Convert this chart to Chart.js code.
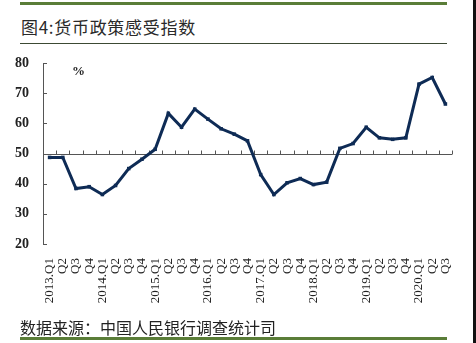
<!DOCTYPE html>
<html>
<head>
<meta charset="utf-8">
<script src="https://cdn.jsdelivr.net/npm/chart.js@4"></script>
<style>
  html, body { margin: 0; padding: 0; background: #fff; }
  #wrap { position: relative; width: 476px; height: 343px; overflow: hidden; background: #fff; }
  #chart { position: absolute; left: 0; top: 0; }
  .bar { position: absolute; left: 20px; width: 427px; }
  #topLine { top: 2px; height: 3px; background: #5a7d38; }
  #thinLine { top: 43px; height: 1px; background: #3c4a34; }
  #botLine { top: 337px; height: 3px; background: #5a7d38; }
  #edge { position: absolute; left: 473px; top: 0; width: 3px; height: 343px; background: #111; }
  #title { position: absolute; left: 21px; top: 14px; font: 17px "Noto Sans CJK SC", sans-serif; letter-spacing: 0.7px; color: #2a2a2a; white-space: nowrap; }
  #source { position: absolute; left: 20px; top: 315px; font: 16px "Noto Sans CJK SC", serif; color: #222; white-space: nowrap; }
  #unit { position: absolute; left: 72px; top: 63px; font: bold 13px "Liberation Serif", serif; color: #222; }
</style>
</head>
<body>
<div id="wrap">
  <div class="bar" id="topLine"></div>
  <div id="title">图4:货币政策感受指数</div>
  <div class="bar" id="thinLine"></div>
  <canvas id="chart" width="476" height="343"></canvas>
  <div id="unit">%</div>
  <div id="source">数据来源：中国人民银行调查统计司</div>
  <div class="bar" id="botLine"></div>
  <div id="edge"></div>
</div>
<script>
// 季度标签
const quarters = [
  "2013.Q1", "Q2", "Q3", "Q4",
  "2014.Q1", "Q2", "Q3", "Q4",
  "2015.Q1", "Q2", "Q3", "Q4",
  "2016.Q1", "Q2", "Q3", "Q4",
  "2017.Q1", "Q2", "Q3", "Q4",
  "2018.Q1", "Q2", "Q3", "Q4",
  "2019.Q1", "Q2", "Q3", "Q4",
  "2020.Q1", "Q2", "Q3"
];

// 货币政策感受指数（%）
const policyIndex = [
  48.7, 48.7, 38.4, 39.0,
  36.4, 39.4, 45.0, 48.1,
  51.4, 63.3, 58.7, 64.7,
  61.4, 58.2, 56.4, 54.2,
  43.0, 36.4, 40.3, 41.7,
  39.7, 40.5, 51.7, 53.3,
  58.7, 55.2, 54.7, 55.2,
  73.0, 75.2, 66.4
];

const yTicks = [20, 30, 40, 50, 60, 70, 80];
const baseLine = 50;

// 50 的横轴与刻度，y 轴内向刻度
const axisMarks = {
  id: "axisMarks",
  beforeDatasetsDraw(chart) {
    const { ctx, chartArea, scales } = chart;
    const x = scales.x, y = scales.y;
    ctx.save();
    ctx.strokeStyle = "#555";
    ctx.lineWidth = 1;
    const by = Math.round(y.getPixelForValue(baseLine)) + 0.5;
    ctx.beginPath();
    ctx.moveTo(chartArea.left, by);
    ctx.lineTo(chartArea.right, by);
    const half = (x.getPixelForValue(1) - x.getPixelForValue(0)) / 2;
    for (let i = 0; i < quarters.length; i++) {
      const tx = Math.round(x.getPixelForValue(i) + half) + 0.5;
      ctx.moveTo(tx, by);
      ctx.lineTo(tx, by - 4);
    }
    yTicks.forEach(v => {
      const ty = Math.round(y.getPixelForValue(v)) + 0.5;
      ctx.moveTo(chartArea.left, ty);
      ctx.lineTo(chartArea.left + 4, ty);
    });
    ctx.stroke();
    ctx.restore();
  }
};

new Chart(document.getElementById("chart"), {
  type: "line",
  data: {
    labels: quarters,
    datasets: [{
      data: policyIndex,
      borderColor: "#0e2b55",
      backgroundColor: "#0e2b55",
      borderWidth: 3,
      tension: 0,
      pointStyle: "rect",
      pointRadius: 2.5,
      pointBackgroundColor: "#0e2b55",
      pointBorderWidth: 0
    }]
  },
  options: {
    responsive: false,
    devicePixelRatio: 1,
    animation: false,
    layout: { padding: { top: 63, right: 24, left: 0, bottom: 0 } },
    plugins: { legend: { display: false }, tooltip: { enabled: false } },
    scales: {
      x: {
        type: "category",
        offset: true,
        grid: { display: false, drawTicks: false },
        border: { display: false },
        afterFit: s => { s.height = 99; },
        ticks: {
          autoSkip: false,
          maxRotation: 90,
          minRotation: 90,
          padding: 14,
          color: "#222",
          font: { family: "Liberation Serif", size: 13 }
        }
      },
      y: {
        min: 20,
        max: 80,
        afterFit: s => { s.width = 43; },
        grid: { display: false, drawTicks: false },
        border: { display: true, color: "#555", width: 1 },
        afterBuildTicks: s => { s.ticks = yTicks.map(v => ({ value: v })); },
        ticks: {
          padding: 14,
          color: "#222",
          font: { family: "Liberation Serif", size: 14, weight: "bold" }
        }
      }
    }
  },
  plugins: [axisMarks]
});
</script>
</body>
</html>
